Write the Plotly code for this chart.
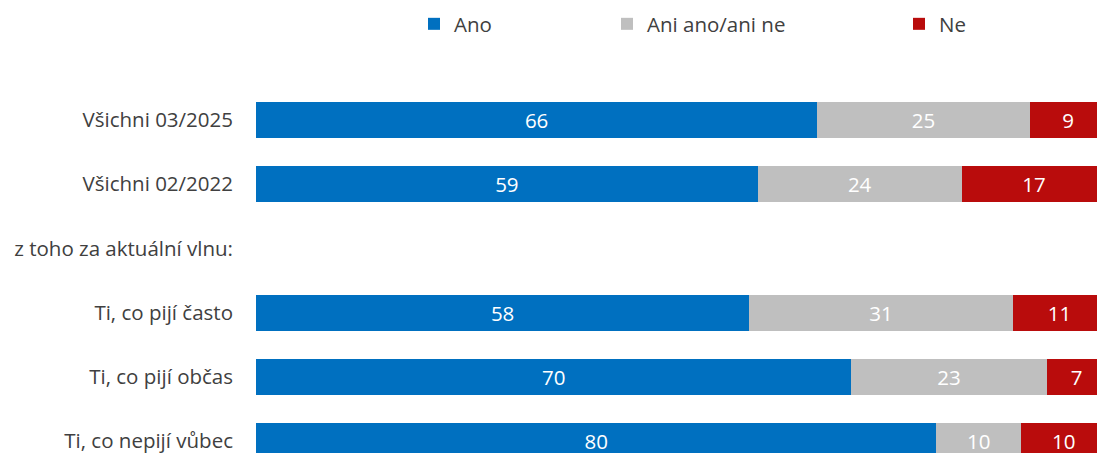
import plotly.graph_objects as go

categories = ["Všichni 03/2025", "Všichni 02/2022", "z toho za aktuální vlnu:",
              "Ti, co pijí často", "Ti, co pijí občas", "Ti, co nepijí vůbec"]
ano = [66, 59, None, 58, 70, 80]
ani = [25, 24, None, 31, 23, 10]
ne = [9, 17, None, 11, 7, 10]

series = [
    ("Ano", ano, "#0070C0", "legend", 414),
    ("Ani ano/ani ne", ani, "#BFBFBF", "legend2", 607),
    ("Ne", ne, "#B90C0C", "legend3", 899),
]

FONT = "Open Sans"
FS = 20.5
W, H = 1097, 453
ROW = 64.2  # pixel pitch of the rows

fig = go.Figure()
for name, vals, color, leg, _ in series:
    fig.add_trace(go.Bar(
        y=categories, x=vals, name=name, orientation="h",
        marker=dict(color=color, line=dict(width=0)),
        text=[("" if v is None else str(v)) for v in vals],
        textposition="inside", insidetextanchor="middle",
        textfont=dict(color="white", size=FS, family=FONT),
        width=36 / ROW, legend=leg, hoverinfo="skip",
    ))

legend_common = dict(orientation="h", xref="container", yref="container",
                     xanchor="left", yanchor="middle", y=1 - 24 / H,
                     font=dict(size=FS, family=FONT, color="#404040"),
                     bgcolor="rgba(0,0,0,0)", borderwidth=0)
lay = {}
for name, vals, color, leg, xpx in series:
    lay[leg] = dict(legend_common, x=xpx / W)

fig.update_layout(
    barmode="stack",
    width=W, height=H,
    margin=dict(l=256, r=0, t=88, b=0),
    plot_bgcolor="white", paper_bgcolor="white",
    font=dict(family=FONT, size=FS, color="#404040"),
    showlegend=True,
    uniformtext=dict(mode=False),
    # the reference's right edge clips the bars at ~98.9 %
    xaxis=dict(range=[0, 98.9], visible=False, fixedrange=True),
    yaxis=dict(type="category", categoryorder="array", categoryarray=categories,
               range=[-0.5 + 365 / ROW, -0.5], showgrid=False, zeroline=False,
               showline=False, ticks="", ticklabelstandoff=22, fixedrange=True,
               tickfont=dict(size=FS, family=FONT, color="#404040")),
    **lay,
)

fig.write_html("out.html", config={"displayModeBar": False},
               post_script="document.body.style.margin='0';document.body.style.overflow='hidden';")
